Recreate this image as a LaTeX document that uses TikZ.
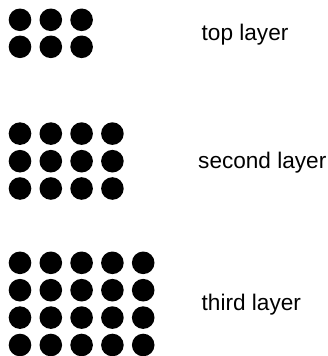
\documentclass[tikz,border=0pt]{standalone}
\usepackage{fontspec}
\setmainfont{Liberation Sans}

\begin{document}
\begin{tikzpicture}[x=1pt, y=-1pt, every node/.style={font=\fontsize{22.6}{27}\selectfont}, dot/.style={circle,fill=black,inner sep=0pt,minimum size=22.6pt}, lab/.style={anchor=base west,inner sep=0pt}]
    \useasboundingbox (0,0) rectangle (328,356);

    % top layer: 3 x 2
    \foreach \c in {1,...,3}{
      \foreach \r/\y in {1/19.8,2/46.8}{
        \node[dot] (top\c\r) at ({20+30.8*(\c-1)},\y) {};
      }
    }
    % second layer: 4 x 3
    \foreach \c in {1,...,4}{
      \foreach \r/\y in {1/133.6,2/161.2,3/188.5}{
        \node[dot] (sec\c\r) at ({20+30.8*(\c-1)},\y) {};
      }
    }
    % third layer: 5 x 4
    \foreach \c in {1,...,5}{
      \foreach \r/\y in {1/262.8,2/290.2,3/317.6,4/345}{
        \node[dot] (thi\c\r) at ({20+30.8*(\c-1)},\y) {};
      }
    }

    \node[lab] (toplab) at (201.5,40.7) {top layer};
    \node[lab] (seclab) at (198,168.7) {second layer};
    \node[lab] (thilab) at (201.5,310.7) {third layer};
\end{tikzpicture}
\end{document}
